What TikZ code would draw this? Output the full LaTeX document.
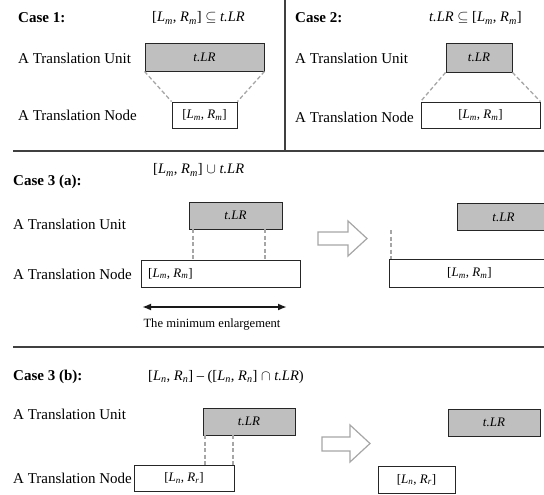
\documentclass[tikz,border=0pt]{standalone}
\usepackage{fontspec}
\setmainfont{Liberation Serif}
\usetikzlibrary{arrows.meta,calc}

% interval notation helpers
\newcommand{\ival}[2]{[\textit{L}\textsubscript{\textit{#1}}, \textit{R}\textsubscript{\textit{#2}}]}
\newcommand{\tlr}{\textit{t.LR}}

\tikzset{
  lbl/.style={anchor=west, font=\fontsize{15}{17}\selectfont, inner sep=0pt},
  casehead/.style={anchor=west, font=\fontsize{15}{17}\selectfont\bfseries, inner sep=0pt},
  formula/.style={anchor=west, font=\fontsize{14.5}{17}\selectfont, inner sep=0pt},
  unitbox/.style={draw=black!85, line width=0.9pt, fill=black!25, font=\fontsize{13}{15}\selectfont, inner sep=0pt},
  nodebox/.style={draw=black!85, line width=0.9pt, fill=white, font=\fontsize{13}{15}\selectfont, inner sep=0pt},
  guide/.style={draw=black!35, line width=1.3pt, dash pattern=on 4pt off 2.5pt},
  divider/.style={draw=black!75, line width=2pt},
  bigarrow/.style={draw=black!35, line width=1.2pt, fill=white, line join=miter},
}

\begin{document}
\begin{tikzpicture}[x=1pt,y=-1pt]
\useasboundingbox (0,0) rectangle (544,495);

% ---------- dividers ----------
\coordinate (vtop) at (285,0);
\coordinate (vbot) at (285,151);
\coordinate (h1l) at (13,151);
\coordinate (h1r) at (546,151);
\coordinate (h2l) at (13,347);
\coordinate (h2r) at (546,347);
\draw[divider] (vtop) -- (vbot);
\draw[divider] (h1l) -- (h1r);
\draw[divider] (h2l) -- (h2r);

% ---------- Case 1 ----------
\node[casehead] (c1) at (18,18) {Case 1:};
\node[formula] (f1) at (152,18) {\ival{m}{m} $\subseteq$ \tlr};
\node[lbl] (l1u) at (18,58) {A Translation Unit};
\node[lbl] (l1n) at (18,115) {A Translation Node};
\node[unitbox, minimum width=119pt, minimum height=28pt] (u1) at (204.5,57) {\tlr};
\node[nodebox, minimum width=65pt, minimum height=26pt] (n1) at (204.5,115) {\ival{m}{m}};
\draw[guide] (u1.south west) -- (n1.north west);
\draw[guide] (u1.south east) -- (n1.north east);

% ---------- Case 2 ----------
\node[casehead] (c2) at (295,18) {Case 2:};
\node[formula] (f2) at (429,18) {\tlr{} $\subseteq$ \ival{m}{m}};
\node[lbl] (l2u) at (295,58) {A Translation Unit};
\node[lbl] (l2n) at (295,117) {A Translation Node};
\node[unitbox, minimum width=66pt, minimum height=29pt] (u2) at (479,57.5) {\tlr};
\node[nodebox, minimum width=119pt, minimum height=26pt] (n2) at (480.5,115) {\ival{m}{m}};
\draw[guide] (u2.south west) -- (n2.north west);
\draw[guide] (u2.south east) -- (n2.north east);

% ---------- Case 3 (a) ----------
\node[casehead] (c3a) at (13,182) {Case 3 (a):};
\node[formula] (f3a) at (153,170) {\ival{m}{m} $\cup$ \tlr};
\node[lbl] (l3u) at (13,224) {A Translation Unit};
\node[lbl] (l3n) at (13,274) {A Translation Node};
\node[unitbox, minimum width=93pt, minimum height=27pt] (u3) at (235.5,215.5) {\tlr};
\node[nodebox, minimum width=159pt, minimum height=27pt] (n3) at (220.5,273.5) {};
\node[anchor=west, font=\fontsize{13}{15}\selectfont, inner sep=0pt] (n3t) at (148,273.5) {\ival{m}{m}};
\coordinate (g3a) at (193,229);
\coordinate (g3b) at (265,229);
\draw[guide] (g3a) -- (g3a |- n3.north);
\draw[guide] (g3b) -- (g3b |- n3.north);

% enlargement span
\coordinate (spanl) at (142,307);
\coordinate (spanr) at (287,307);
\draw[line width=1.8pt, black!90, {Latex[length=9pt,width=7pt]}-{Latex[length=9pt,width=7pt]}] (spanl) -- (spanr);
\node[font=\fontsize{12.6}{14}\selectfont, inner sep=0pt] (span) at (212,324) {The minimum enlargement};

% transition arrow
\draw[bigarrow] (318,232) -- (348,232) -- (348,221) -- (367,238.5) -- (348,256) -- (348,245) -- (318,245) -- cycle;

% result
\node[unitbox, minimum width=92pt, minimum height=27pt, anchor=north west] (u3r) at (457,203) {\tlr};
\node[nodebox, minimum width=160pt, minimum height=28pt, anchor=north west] (n3r) at (389,259) {\ival{m}{m}};
\coordinate (g3c) at (391,230);
\draw[guide] (g3c) -- (g3c |- n3r.north);

% ---------- Case 3 (b) ----------
\node[casehead] (c3b) at (13,377) {Case 3 (b):};
\node[formula] (f3b) at (148,377) {\ival{n}{n} -- (\ival{n}{n} $\cap$ \tlr)};
\node[lbl] (l4u) at (13,414) {A Translation Unit};
\node[lbl] (l4n) at (13,478) {A Translation Node};
\node[unitbox, minimum width=92pt, minimum height=27pt] (u4) at (249,421.5) {\tlr};
\node[nodebox, minimum width=100pt, minimum height=26pt] (n4) at (184,478) {\ival{n}{r}};
\coordinate (g4a) at (205,435);
\coordinate (g4b) at (233,435);
\draw[guide] (g4a) -- (g4a |- n4.north);
\draw[guide] (g4b) -- (g4b |- n4.north);

% transition arrow
\draw[bigarrow] (322,437) -- (350,437) -- (350,425) -- (370,443.5) -- (350,462) -- (350,451) -- (322,451) -- cycle;

% result
\node[unitbox, minimum width=92pt, minimum height=27pt] (u4r) at (494,422.5) {\tlr};
\node[nodebox, minimum width=77pt, minimum height=27pt] (n4r) at (416.5,479.5) {\ival{n}{r}};
\end{tikzpicture}
\end{document}
